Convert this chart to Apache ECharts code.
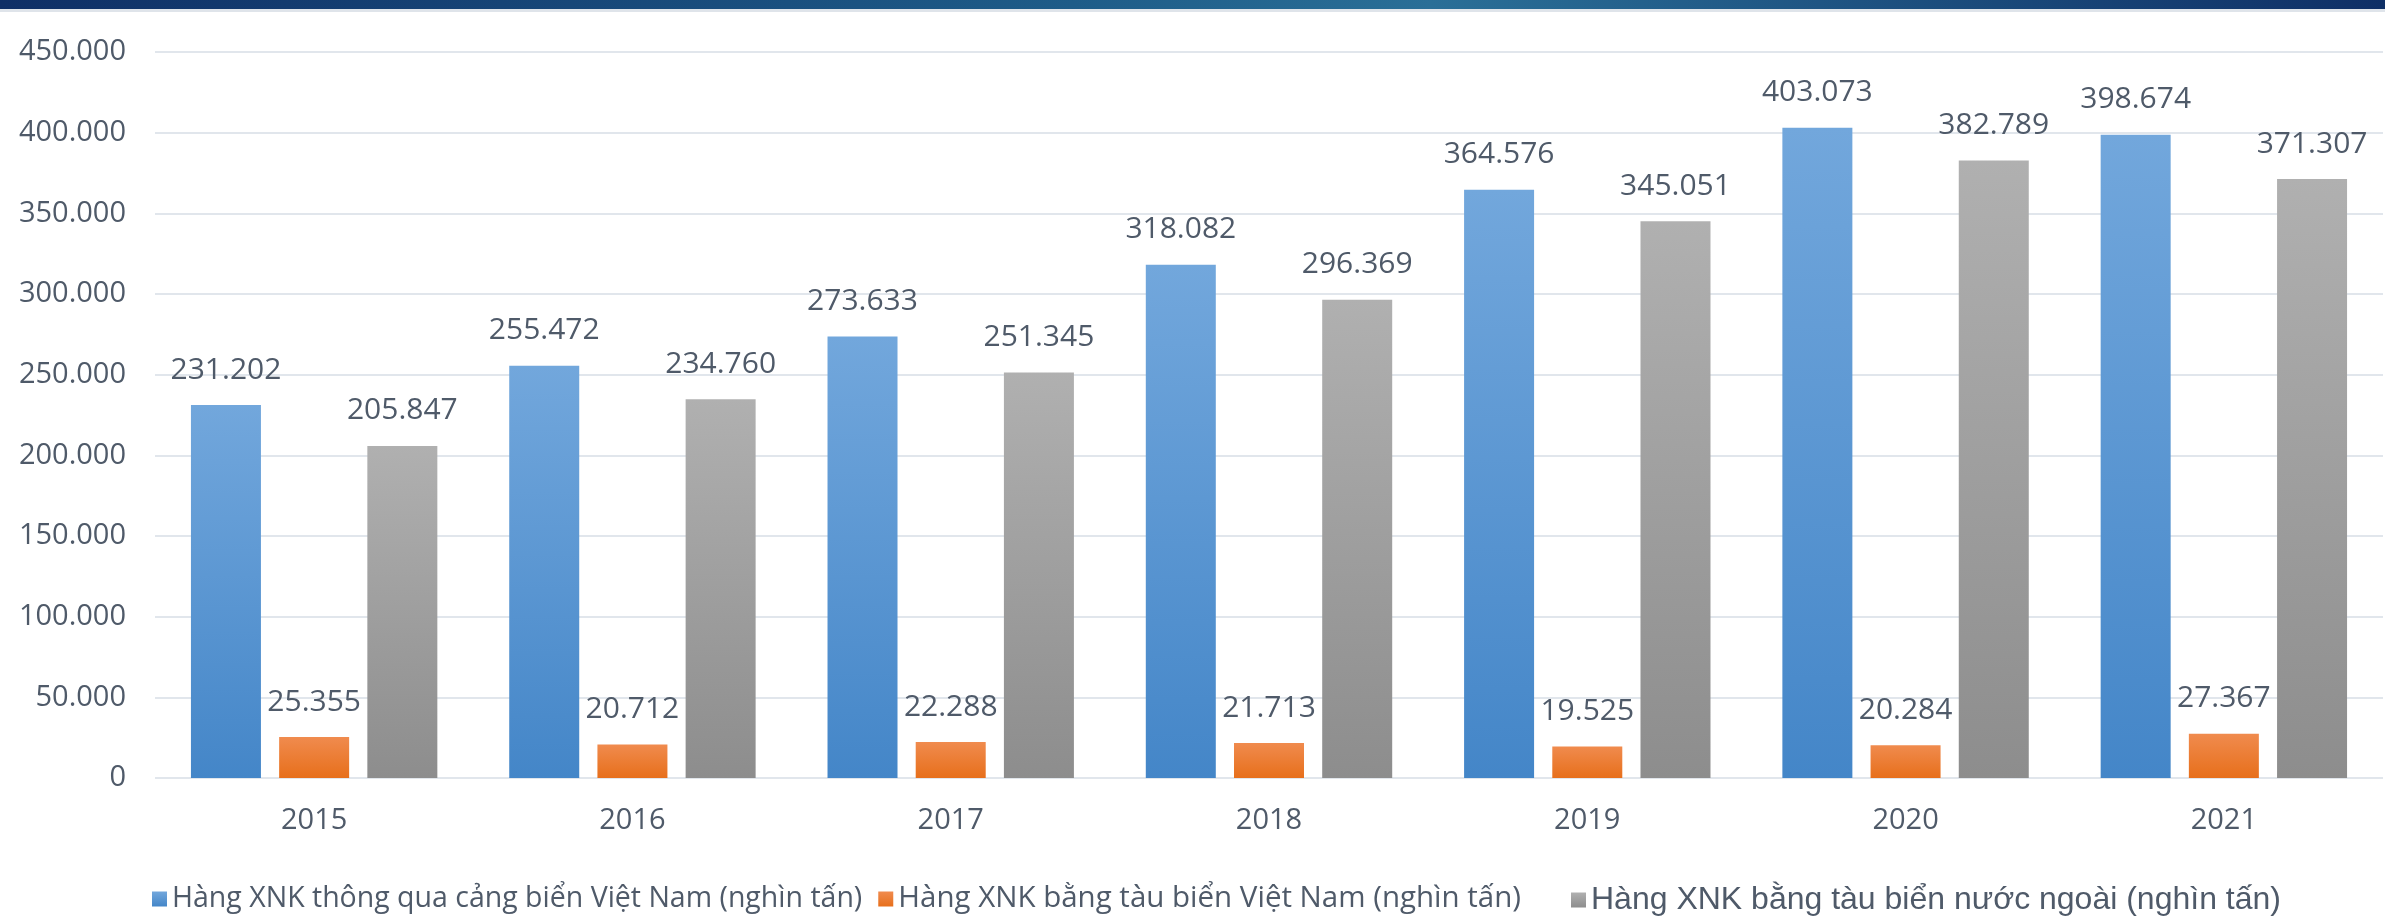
<!DOCTYPE html>
<html>
<head>
<meta charset="utf-8">
<script src="https://cdn.jsdelivr.net/npm/echarts@6/dist/echarts.min.js"></script>
<style>
html,body{margin:0;padding:0;background:#fff;}
#c{width:2385px;height:916px;}
</style>
</head>
<body>
<div id="c"></div>
<script>
const categories = ['2015','2016','2017','2018','2019','2020','2021'];
const seriesNames = [
  'Hàng XNK thông qua cảng biển Việt Nam (nghìn tấn)',
  'Hàng XNK bằng tàu biển Việt Nam (nghìn tấn)',
  'Hàng XNK bằng tàu biển nước ngoài (nghìn tấn)'
];
const viaPorts = [231202, 255472, 273633, 318082, 364576, 403073, 398674];
const vnShips = [25355, 20712, 22288, 21713, 19525, 20284, 27367];
const foreignShips = [205847, 234760, 251345, 296369, 345051, 382789, 371307];
const yTicks = { min: 0, max: 450000, interval: 50000 };

const fmt = v => v === 0 ? '0' : String(v).replace(/\B(?=(\d{3})+(?!\d))/g, '.');
const grad = (a, b) => new echarts.graphic.LinearGradient(0, 0, 0, 1, [{offset:0,color:a},{offset:1,color:b}]);
const txt = '#4f5a69';
const FF = '"Open Sans", "Noto Sans", sans-serif';

const chart = echarts.init(document.getElementById('c'));
const mk = (name, data, c1, c2) => ({
  name, type: 'bar', data, barWidth: 70, barGap: '26%',
  itemStyle: { color: grad(c1, c2) },
  label: { show: true, position: 'top', distance: 20, formatter: p => fmt(p.value),
           color: txt, fontSize: 30, fontFamily: FF },
  emphasis: { disabled: true }
});
chart.setOption({
  animation: false,
  graphic: [
    { type: 'rect', shape: { x: 0, y: 0, width: 2385, height: 9 },
      style: { fill: new echarts.graphic.LinearGradient(0,0,1,0,[
        {offset:0,color:'#0f2f66'},{offset:0.45,color:'#1e5c88'},{offset:0.6,color:'#2a6f97'},{offset:1,color:'#0f2f66'}]) } },
    { type: 'rect', shape: { x: 0, y: 9, width: 2385, height: 3 }, style: { fill: '#dfe4ea' } }
  ],
  grid: { left: 155, right: 2, top: 52, bottom: 138 },
  legend: [{
    data: [seriesNames[0], seriesNames[1]],
    left: 147, top: 879, itemWidth: 15, itemHeight: 15, itemGap: 16, icon: 'rect',
    textStyle: { color: txt, fontSize: 28, fontFamily: FF,
      rich: {
        a: { color: txt, fontSize: 28.5, fontFamily: FF },
        c: { color: txt, fontSize: 29.5, fontFamily: FF }
      } },
    formatter: n => n === seriesNames[1] ? '{c|' + n + '}' : '{a|' + n + '}'
  }, {
    data: [seriesNames[2]],
    left: 1566, top: 879, itemWidth: 15, itemHeight: 15, icon: 'rect',
    textStyle: { color: txt, fontSize: 32, fontFamily: '"Liberation Sans", Arial, sans-serif' }
  }],
  xAxis: {
    type: 'category', data: categories,
    axisLine: { show: false }, axisTick: { show: false },
    axisLabel: { color: txt, fontSize: 29, fontFamily: FF, margin: 28 }
  },
  yAxis: {
    type: 'value', min: yTicks.min, max: yTicks.max, interval: yTicks.interval,
    axisLabel: { color: txt, fontSize: 29, fontFamily: FF, margin: 29, formatter: fmt },
    splitLine: { lineStyle: { color: '#e1e6ec', width: 2 } }
  },
  series: [
    mk(seriesNames[0], viaPorts, '#72a7dc', '#4486c8'),
    mk(seriesNames[1], vnShips, '#f08b4e', '#e76f1b'),
    mk(seriesNames[2], foreignShips, '#b0b0b0', '#8d8d8d')
  ]
});
</script>
</body>
</html>
